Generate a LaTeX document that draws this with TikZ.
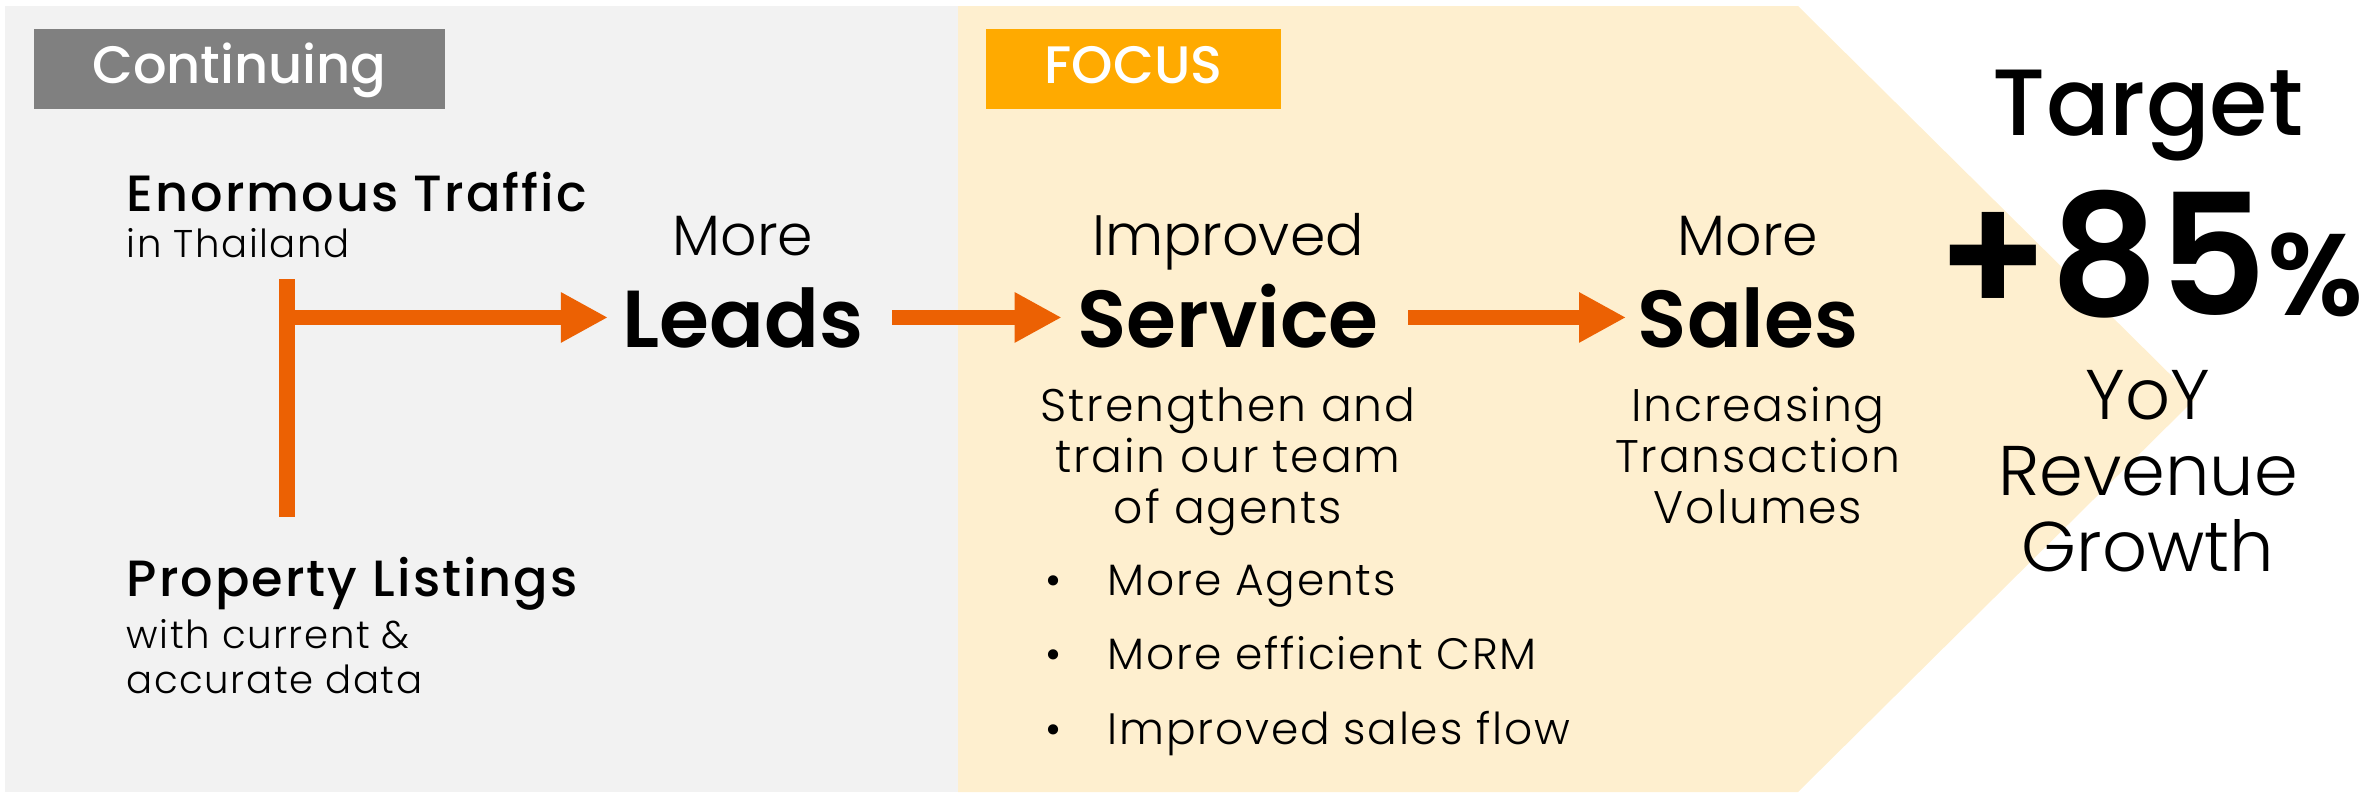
\documentclass[tikz,border=0pt]{standalone}
\usepackage{fontspec}
\setmainfont{Poppins}
\newfontfamily\thinface{Poppins Light}
\newfontfamily\thinwide{Poppins Light}[LetterSpace=4]
\newfontfamily\midface{Poppins Medium}
\newfontfamily\midwide{Poppins Medium}[LetterSpace=4]
\newfontfamily\heavyface{Poppins SemiBold}
\usetikzlibrary{positioning,arrows.meta}

\definecolor{panelgray}{HTML}{F2F2F2}
\definecolor{focusbeige}{HTML}{FEEFCF}
\definecolor{tagorange}{HTML}{FFAA00}
\definecolor{taggray}{HTML}{808080}
\definecolor{floworange}{HTML}{EC6103}

\tikzset{
  tag/.style={fill=#1, text=white, minimum height=8mm, inner sep=0pt,
    text height=1.5ex, text depth=0pt, font=\midface\fontsize{15}{18}\selectfont},
  flow/.style={floworange, line width=1.5mm, -{Triangle[length=4.7mm,width=4.7mm]}},
  headline/.style={font=\midwide\fontsize{14.5}{17}\selectfont, inner sep=0pt},
  subline/.style={font=\thinwide\fontsize{11}{12.8}\selectfont, inner sep=0pt, align=left},
  kicker/.style={font=\thinface\fontsize{16.2}{19}\selectfont, inner sep=0pt},
  stage/.style={font=\heavyface\fontsize{23}{28}\selectfont, inner sep=0pt},
  desc/.style={font=\thinwide\fontsize{13}{14.5}\selectfont, inner sep=0pt, align=center},
  item/.style={font=\thinwide\fontsize{12.5}{14}\selectfont, inner sep=0pt},
  goal/.style={font=\midface\fontsize{26.8}{30}\selectfont, inner sep=0pt},
  bignum/.style={font=\heavyface\fontsize{48}{56}\selectfont, inner sep=0pt},
  growth/.style={font=\thinface\fontsize{20}{21.6}\selectfont, inner sep=0pt, align=center}
}

\begin{document}
\begin{tikzpicture}[x=0.1mm,y=-0.1mm]
    \useasboundingbox (0,0) rectangle (2376,796);
    % panels
    \fill[panelgray] (5,6) rectangle (958,792);
    \fill[focusbeige] (958,6) -- (1798,6) -- (2195,399) -- (1798,792) -- (958,792) -- cycle;

    % tags
    \node[tag=taggray, minimum width=41.1mm] (continuing) at (239.5,69) {Continuing};
    \node[tag=tagorange, minimum width=29.5mm] (focus) at (1133.5,69) {FOCUS};

    % sources
    \node[headline, anchor=base west] (traffic) at (126,211) {Enormous Traffic};
    \node[subline, anchor=base west] (thailand) at (126,257) {in Thailand};
    \node[headline, anchor=base west] (listings) at (126,596) {Property Listings};
    \node[subline, anchor=base west] (accurate) at (126,693) {with current \&\\accurate data};

    % stages
    \node[kicker, anchor=base] (moreleads) at (743,255) {More};
    \node[stage, anchor=base] (leads) at (743,347) {Leads};
    \node[kicker, anchor=base] (improved) at (1228,255) {Improved};
    \node[stage, anchor=base] (service) at (1228,347) {Service};
    \node[kicker, anchor=base] (moresales) at (1748,255) {More};
    \node[stage, anchor=base] (sales) at (1748,347) {Sales};

    \node[desc, anchor=base] (agentsdesc) at (1228,523) {Strengthen and\\train our team\\of agents};
    \node[desc, anchor=base] (volumes) at (1758,523) {Increasing\\Transaction\\Volumes};

    \node[item, anchor=base west] (agents) at (1107,595) {More Agents};
    \node[item, anchor=base west] (crm) at (1107,669) {More efficient CRM};
    \node[item, anchor=base west] (salesflow) at (1107,744) {Improved sales flow};
    \node[item, left=4.5mm of agents.base west, anchor=base east] (dota) {•};
    \node[item, left=4.5mm of crm.base west, anchor=base east] (dotb) {•};
    \node[item, left=4.5mm of salesflow.base west, anchor=base east] (dotc) {•};

    % target
    \node[goal, anchor=base] (target) at (2148,135) {Target};
    \node[bignum, anchor=base] (pct) at (2150,315) {+85{\fontsize{33}{38}\selectfont\%}};
    \node[growth, anchor=base] (yoy) at (2148,571) {YoY\\Revenue\\Growth};

    % connectors
    \coordinate (bartop) at (287,279);
    \coordinate (barbot) at (287,517);
    \draw[floworange, line width=1.6mm] (bartop) -- (barbot);
    \draw[flow, shorten >=1.4mm] (bartop |- leads.west) -- (leads.west);
    \draw[flow, shorten <=2.8mm, shorten >=1.5mm] (leads.east) -- (leads.east -| service.west);
    \draw[flow, shorten <=2.9mm, shorten >=1.1mm] (leads.east -| service.east) -- (leads.east -| sales.west);
\end{tikzpicture}
\end{document}
